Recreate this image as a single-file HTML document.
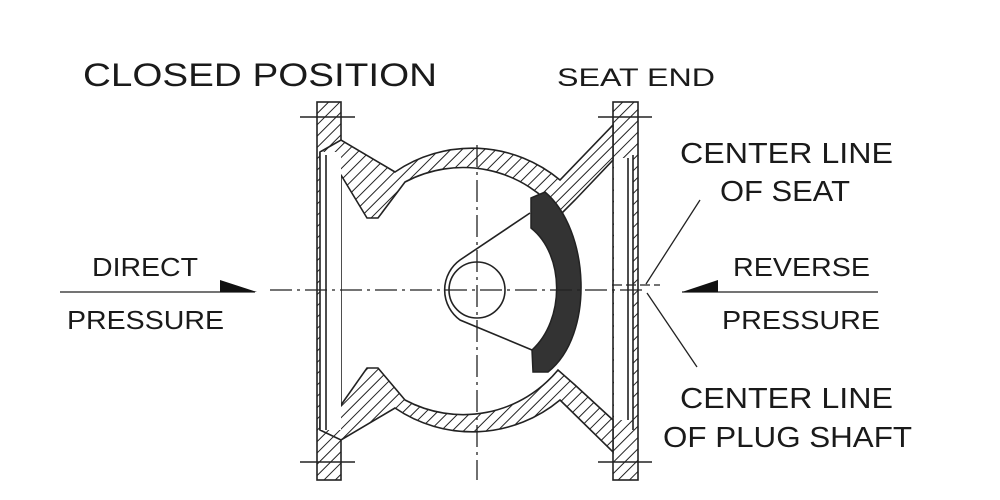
<!DOCTYPE html>
<html><head><meta charset="utf-8"><style>
html,body{margin:0;padding:0;background:#fff}
svg{display:block}
text{font-family:"Liberation Sans",Arial,sans-serif;fill:#1a1a1a}
</style></head><body>
<svg width="1000" height="500" viewBox="0 0 1000 500" xmlns="http://www.w3.org/2000/svg">
<defs>
<pattern id="h" patternUnits="userSpaceOnUse" width="8" height="8" patternTransform="rotate(45)">
<rect width="8" height="8" fill="#fff"/><line x1="0" y1="0" x2="0" y2="8" stroke="#222" stroke-width="2"/>
</pattern>
</defs>
<g lengthAdjust="spacingAndGlyphs">
<text x="83" y="86" font-size="32" textLength="354" lengthAdjust="spacingAndGlyphs">CLOSED POSITION</text>
<text x="557" y="86" font-size="25" textLength="158" lengthAdjust="spacingAndGlyphs">SEAT END</text>
<text x="680" y="163" font-size="29" textLength="213" lengthAdjust="spacingAndGlyphs">CENTER LINE</text>
<text x="720" y="201" font-size="29" textLength="130" lengthAdjust="spacingAndGlyphs">OF SEAT</text>
<text x="92" y="276" font-size="26" textLength="106" lengthAdjust="spacingAndGlyphs">DIRECT</text>
<text x="67" y="329" font-size="26" textLength="157" lengthAdjust="spacingAndGlyphs">PRESSURE</text>
<text x="733" y="276" font-size="26" textLength="137" lengthAdjust="spacingAndGlyphs">REVERSE</text>
<text x="722" y="329" font-size="26" textLength="158" lengthAdjust="spacingAndGlyphs">PRESSURE</text>
<text x="680" y="408" font-size="29" textLength="213" lengthAdjust="spacingAndGlyphs">CENTER LINE</text>
<text x="663" y="447" font-size="29" textLength="249" lengthAdjust="spacingAndGlyphs">OF PLUG SHAFT</text>
</g>
<g stroke="#222" stroke-width="1.6" fill="none">
<rect x="317" y="102" width="24" height="378" fill="url(#h)"/>
<rect x="613" y="102" width="25" height="378" fill="url(#h)"/>
<path d="M320,152 L341,140 L395,172 A137,137 0 0 1 560,180 L613,125 L613,160 L575,200 L560,215 A123,123 0 0 0 405,182 L378,218 L367,218 L341,175 L320,160 Z" fill="url(#h)"/>
<path d="M320,430 L341,440 L395,408 A137,137 0 0 0 560,400 L613,452 L613,420 L575,385 L558,370 A123,123 0 0 1 405,400 L378,368 L367,368 L341,405 L320,420 Z" fill="url(#h)"/>
<rect x="320" y="152" width="21" height="278" fill="#fff" stroke="none"/>
<rect x="614" y="158" width="19" height="262" fill="#fff" stroke="none"/>
<line x1="320" y1="152" x2="320" y2="430"/>
<line x1="326" y1="155" x2="326" y2="430"/>
<line x1="628" y1="158" x2="628" y2="420"/>
<line x1="633" y1="155" x2="633" y2="430"/>
<line x1="300" y1="117" x2="355" y2="117"/><line x1="598" y1="117" x2="652" y2="117"/>
<line x1="300" y1="462" x2="355" y2="462"/><line x1="598" y1="462" x2="652" y2="462"/>
<path d="M530,213 L460,260 A37,37 0 0 0 460,320 L532,350"/>
<circle cx="477" cy="290" r="28"/>
</g>
<path d="M531,198 L545,192 C590,230 595,335 548,372 L533,372 L532,350 C565,320 565,255 531,228 Z" fill="#333" stroke="#222" stroke-width="1.5"/>
<g stroke="#222" stroke-width="1.3" fill="none">
<line x1="270" y1="290" x2="645" y2="290" stroke-dasharray="22,5,3,5"/>
<line x1="477" y1="145" x2="477" y2="480" stroke-dasharray="22,5,3,5"/>
<line x1="612" y1="285" x2="660" y2="285" stroke-dasharray="10,4"/>
<line x1="60" y1="292" x2="255" y2="292"/>
<line x1="682" y1="292" x2="878" y2="292"/>
<line x1="700" y1="200" x2="646" y2="284"/>
<line x1="697" y1="367" x2="647" y2="293"/>
</g>
<path d="M220,280 L257,292 L220,292 Z" fill="#111"/>
<path d="M718,280 L682,292 L718,292 Z" fill="#111"/>
</svg>
</body></html>
